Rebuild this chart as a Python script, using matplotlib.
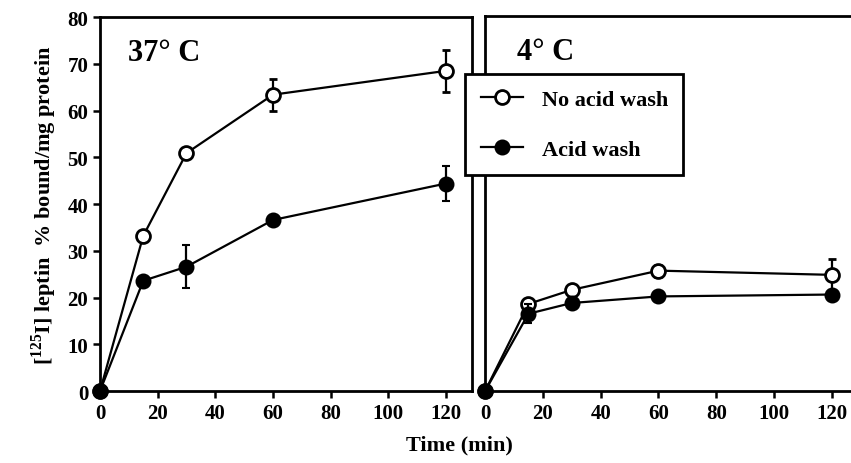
import matplotlib
matplotlib.use("Agg")
import matplotlib.pyplot as plt
from matplotlib.lines import Line2D

# time points (min)
time = [0, 15, 30, 60, 120]

# 37 C panel
warm_no_acid = [0, 33.2, 50.9, 63.4, 68.5]
warm_no_acid_err = [0, 0, 0, 3.4, 4.5]
warm_acid = [0, 23.6, 26.6, 36.6, 44.4]
warm_acid_err = [0, 0, 4.6, 1.0, 3.7]

# 4 C panel
cold_no_acid = [0, 18.6, 21.6, 25.7, 24.8]
cold_no_acid_err = [0, 0, 0, 1.3, 3.4]
cold_acid = [0, 16.5, 18.8, 20.2, 20.6]
cold_acid_err = [0, 2.0, 0, 0, 1.0]

xticks = [0, 20, 40, 60, 80, 100, 120]
yticks = [0, 10, 20, 30, 40, 50, 60, 70, 80]

plt.rcParams['font.family'] = ['Liberation Serif', 'DejaVu Serif']
plt.rcParams['font.weight'] = 'bold'
plt.rcParams['mathtext.fontset'] = 'custom'
plt.rcParams['mathtext.bf'] = 'Liberation Serif:bold'
plt.rcParams['mathtext.rm'] = 'Liberation Serif:bold'

fig = plt.figure(figsize=(8.51, 4.64), dpi=100)
ax1 = fig.add_axes([0.1175, 0.155, 0.437, 0.806])
ax2 = fig.add_axes([0.570, 0.155, 0.430, 0.808])

def draw(ax, no_acid, no_err, acid, acid_err, label, xmax, lx):
    ax.errorbar(time, no_acid, yerr=no_err, color='black', lw=1.6, marker='o',
                ms=10, mfc='white', mec='black', mew=2, capsize=3,
                elinewidth=1.6, capthick=1.6, clip_on=False, zorder=3)
    ax.errorbar(time, acid, yerr=acid_err, color='black', lw=1.6, marker='o',
                ms=10, mfc='black', mec='black', mew=1.5, capsize=3,
                elinewidth=1.6, capthick=1.6, clip_on=False, zorder=4)
    ax.set_xlim(0, xmax)
    ax.set_ylim(0, 80)
    ax.set_xticks(xticks)
    ax.tick_params(axis='both', direction='out', length=5, width=1.8,
                   labelsize=15)
    for lab in ax.get_xticklabels() + ax.get_yticklabels():
        lab.set_fontweight('bold')
    for s in ax.spines.values():
        s.set_linewidth(2)
    ax.text(lx, 0.906, label, transform=ax.transAxes, fontsize=22,
            fontweight='bold', va='center', ha='left')

draw(ax1, warm_no_acid, warm_no_acid_err, warm_acid, warm_acid_err,
     '37° C', 129, 0.075)
ax1.set_yticks(yticks)
ax1.set_ylabel(r'[$^{\mathbf{125}}$I] leptin  % bound/mg protein',
               fontsize=16, fontweight='bold', labelpad=6)

draw(ax2, cold_no_acid, cold_no_acid_err, cold_acid, cold_acid_err,
     '4° C', 126.6, 0.087)
ax2.set_yticks(yticks)
ax2.tick_params(axis='y', length=0, labelleft=False)
ax2.spines['right'].set_visible(False)

handles = [
    Line2D([], [], color='black', lw=1.6, marker='o', ms=10, mfc='white',
           mec='black', mew=2),
    Line2D([], [], color='black', lw=1.6, marker='o', ms=10, mfc='black',
           mec='black', mew=1.5),
]
labels = ['No acid wash', 'Acid wash']
leg = fig.legend(handles, labels, loc='upper left',
                 bbox_to_anchor=(465 / 851, 1 - 75 / 464), borderaxespad=0,
                 frameon=True, fancybox=False, edgecolor='black',
                 framealpha=1, prop={'weight': 'bold', 'size': 16},
                 handlelength=1.9, labelspacing=1.3, borderpad=0.7,
                 handletextpad=0.85)
leg.get_frame().set_linewidth(2)
leg.set_zorder(10)

fig.text(0.54, 0.04, 'Time (min)', ha='center', va='center', fontsize=16,
         fontweight='bold')

fig.savefig('out.png', dpi=100)
